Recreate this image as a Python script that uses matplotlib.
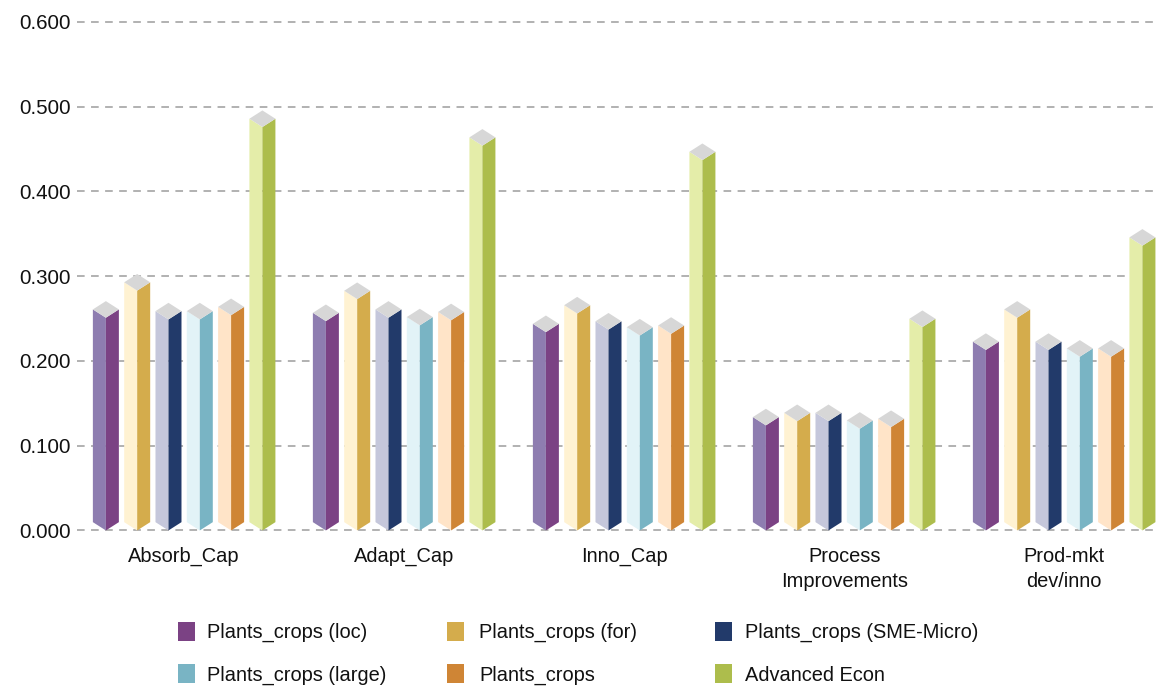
import matplotlib
matplotlib.use("Agg")
import matplotlib.pyplot as plt
from matplotlib.patches import Polygon, Rectangle
from matplotlib import font_manager

# ---- data -------------------------------------------------------------
categories = ["Absorb_Cap", "Adapt_Cap", "Inno_Cap",
              "Process\nImprovements", "Prod-mkt\ndev/inno"]

series_names = ["Plants_crops (loc)", "Plants_crops (for)",
                "Plants_crops (SME-Micro)", "Plants_crops (large)",
                "Plants_crops", "Advanced Econ"]

plants_loc = [0.251, 0.247, 0.234, 0.124, 0.213]
plants_for = [0.283, 0.273, 0.256, 0.129, 0.251]
plants_sme_micro = [0.249, 0.251, 0.237, 0.129, 0.213]
plants_large = [0.249, 0.242, 0.230, 0.120, 0.205]
plants_all = [0.254, 0.248, 0.232, 0.122, 0.205]
advanced_econ = [0.476, 0.454, 0.437, 0.240, 0.336]

series_values = [plants_loc, plants_for, plants_sme_micro,
                 plants_large, plants_all, advanced_econ]

y_ticks = [0.0, 0.1, 0.2, 0.3, 0.4, 0.5, 0.6]
y_tick_labels = ["0.000", "0.100", "0.200", "0.300", "0.400", "0.500", "0.600"]

# (light face, dark face) per series
face_colors = [("#8E7DB0", "#7B4284"),
               ("#FFF2D2", "#D4AC4C"),
               ("#C5C7DB", "#223A6A"),
               ("#E2F3F7", "#79B4C4"),
               ("#FFE4C8", "#CF8535"),
               ("#E4EDA9", "#ADBD4C")]
top_color = "#D7D7D7"

# ---- fonts ------------------------------------------------------------
available = {f.name for f in font_manager.fontManager.ttflist}
base_family = "Liberation Sans Narrow" if "Liberation Sans Narrow" in available else "Liberation Sans"
plt.rcParams["font.family"] = [base_family, "DejaVu Sans"]
narrow = base_family == "Liberation Sans Narrow"
tick_fs = 16.5 if narrow else 14.8
text_fs = 16 if narrow else 14.4

W, H = 1157, 687
fig = plt.figure(figsize=(W / 100, H / 100), dpi=100)
fig.patch.set_facecolor("white")

ymin, ymax = -0.005, 0.61
ax = fig.add_axes([0.06655, 0.2217, 0.93345, 0.7587])
ax.set_xlim(-0.487, 4.422)
ax.set_ylim(ymin, ymax)

# ---- pseudo-3D bars -----------------------------------------------------
bar_w = 0.1182      # full bar width (both faces)
pitch = 0.1423      # distance between neighbouring bars
depth = 0.0098      # vertical skew of the isometric faces

n_series = len(series_values)
for j, (vals, (light, dark)) in enumerate(zip(series_values, face_colors)):
    for i, v in enumerate(vals):
        xm = i + (j - (n_series - 1) / 2) * pitch
        xl, xr = xm - bar_w / 2, xm + bar_w / 2
        left_face = [(xl, depth), (xm, 0), (xm, v), (xl, v + depth)]
        right_face = [(xm, 0), (xr, depth), (xr, v + depth), (xm, v)]
        top_face = [(xl, v + depth), (xm, v), (xr, v + depth), (xm, v + 2 * depth)]
        ax.add_patch(Polygon(left_face, closed=True, facecolor=light,
                             edgecolor="none", zorder=3))
        ax.add_patch(Polygon(right_face, closed=True, facecolor=dark,
                             edgecolor="none", zorder=3))
        ax.add_patch(Polygon(top_face, closed=True, facecolor=top_color,
                             edgecolor="none", zorder=3))

# ---- axes styling -----------------------------------------------------
ax.set_yticks(y_ticks)
ax.set_yticklabels(y_tick_labels)
ax.set_xticks(range(len(categories)))
ax.set_xticklabels(categories, linespacing=1.4)
ax.tick_params(axis="y", length=0, pad=4.5, labelsize=tick_fs, labelcolor="#111111")
ax.tick_params(axis="x", length=0, pad=9, labelsize=text_fs, labelcolor="#111111")
for s in ax.spines.values():
    s.set_visible(False)
ax.set_axisbelow(True)
ax.yaxis.grid(True, color="#9C9C9C", linewidth=1.1, linestyle=(0, (5, 4.2)))
ax.xaxis.grid(False)

# ---- legend -----------------------------------------------------------
legend_cols_sq = [178, 447, 715]
legend_cols_tx = [207, 479, 745]
legend_rows_mid = [631, 673.5]
legend_rows_base = [638, 681]
sq_w, sq_h = 17, 19
for k, name in enumerate(series_names):
    r, c = divmod(k, 3)
    x0 = legend_cols_sq[c] / W
    y0 = 1 - (legend_rows_mid[r] + sq_h / 2) / H
    fig.patches.append(Rectangle((x0, y0), sq_w / W, sq_h / H,
                                 transform=fig.transFigure,
                                 facecolor=face_colors[k][1], edgecolor="none"))
    fig.text(legend_cols_tx[c] / W, 1 - legend_rows_base[r] / H, name,
             fontsize=text_fs, color="#111111", ha="left", va="baseline")

fig.savefig("out.png", dpi=100)
